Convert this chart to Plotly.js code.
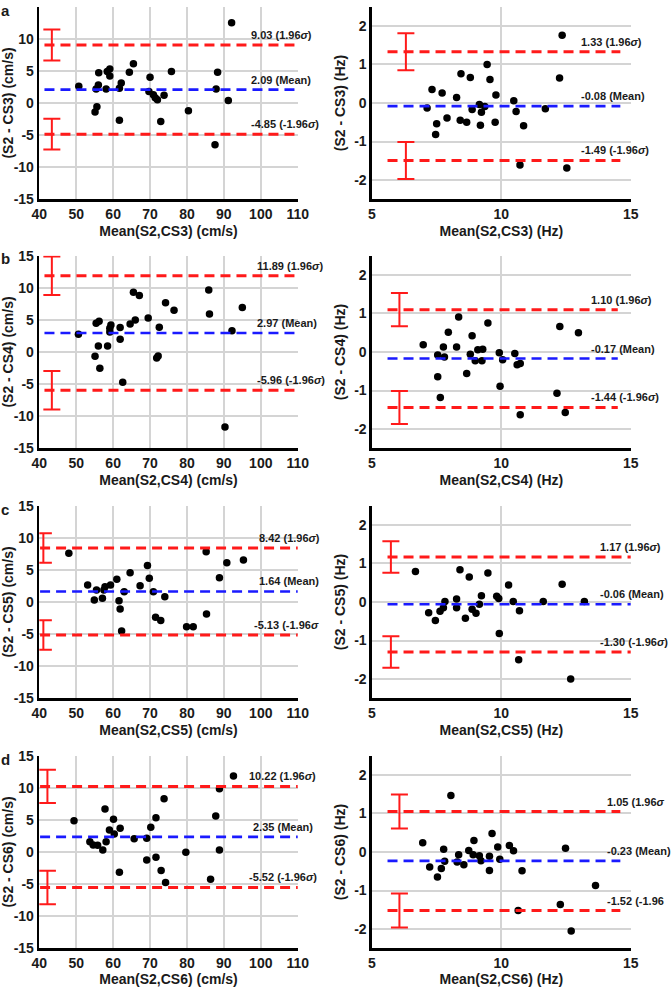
<!DOCTYPE html>
<html>
<head>
<meta charset="utf-8">
<script src="https://cdn.plot.ly/plotly-3.0.1.min.js"></script>
<style>html,body{margin:0;padding:0;background:#fff;overflow:hidden}#chart{width:672px;height:987px}</style>
</head>
<body>
<div id="chart"></div>
<script>
// ---------------- DATA ----------------
const panelLetters = ['a', 'b', 'c', 'd'];
const sensorNames = ['CS3', 'CS4', 'CS5', 'CS6'];
const speedTicks = [40, 50, 60, 70, 80, 90, 100, 110];
const speedYTicks = [-15, -10, -5, 0, 5, 10, 15];
const freqTicks = [5, 10, 15];
const freqYTicks = [-2, -1, 0, 1, 2];

// Speed (cm/s) panels: x = mean, y = difference
const speedX_CS3 = [92.1,50.7,56.1,56.0,55.4,58.1,58.4,59.1,59.1,55.6,55.1,61.7,62.2,61.7,64.4,65.5,70.0,69.7,70.9,71.4,72.0,73.8,72.9,75.8,80.4,88.3,87.9,87.6,91.2];
const speedY_CS3 = [12.5,2.6,4.7,2.8,2.2,2.2,4.9,5.3,4.2,-0.6,-1.4,-2.7,3.1,2.3,4.8,6.1,4.0,1.8,1.3,0.8,0.5,1.2,-2.9,4.9,-1.2,4.8,2.2,-6.5,0.4];
const speedX_CS4 = [50.6,55.1,55.4,56.2,56.0,56.4,58.5,59.4,59.1,59.1,61.9,61.9,62.6,64.6,65.5,66.0,67.1,69.5,71.8,72.2,72.5,74.2,76.5,85.9,86.1,90.3,92.2,95.0];
const speedY_CS4 = [2.75,-0.67,4.46,4.8,0.93,-2.54,0.93,4.2,3.7,3.1,3.8,1.97,-4.72,4.36,9.3,4.98,8.8,5.3,-0.93,-0.62,3.84,7.68,6.5,9.65,5.92,-11.7,3.3,6.95];
const speedX_CS5 = [48.0,53.1,54.9,55.5,57.1,57.5,57.8,59.3,61.0,61.6,61.9,63.0,62.3,64.6,67.3,69.3,69.8,70.9,71.5,72.9,74.0,79.9,81.7,85.2,85.3,88.8,90.8,95.3];
const speedY_CS5 = [7.58,2.65,0.31,1.87,0.57,1.87,2.39,2.65,3.53,0.21,-1.09,1.61,-4.5,4.57,2.54,5.7,3.68,1.61,-2.39,-2.9,0.83,-3.84,-3.84,7.84,-1.87,3.79,6.12,6.54];
const speedX_CS6 = [49.4,53.7,54.6,55.8,57.2,57.8,58.1,59.0,60.1,60.3,61.9,61.7,65.7,69.1,69.1,70.2,71.6,71.6,73.0,73.8,74.2,79.7,86.4,87.8,88.8,88.8,92.6];
const speedY_CS6 = [4.88,1.61,1.09,1.04,0.31,6.69,1.61,3.43,5.09,2.8,3.68,-3.17,2.08,-1.25,2.13,3.84,5.35,-0.83,-2.9,8.3,-4.77,-0.05,-4.26,5.6,9.86,0.31,11.83];

// Frequency (Hz) panels
const freqX_CS3 = [12.35,12.25,7.32,7.71,7.13,7.50,7.46,7.90,8.27,8.44,8.41,8.66,8.80,8.87,9.15,9.19,9.23,9.36,9.45,9.56,9.79,9.76,10.48,10.57,10.72,10.86,11.70,12.53];
const freqY_CS3 = [1.76,0.65,0.35,0.26,-0.13,-0.54,-0.82,-0.39,0.14,0.76,-0.45,-0.50,0.66,-0.17,-0.04,-0.58,-0.24,-0.09,1.00,0.61,0.21,-0.50,0.06,-0.22,-1.61,-0.59,-0.15,-1.69];
const freqX_CS4 = [6.98,7.54,7.54,7.64,7.76,7.80,7.95,8.27,8.35,8.66,8.87,8.80,8.99,9.09,9.25,9.28,9.48,9.92,9.95,10.05,10.52,10.61,10.73,10.73,12.15,12.26,12.47,12.98];
const freqY_CS4 = [0.19,-0.08,-0.64,-1.18,0.13,-0.13,0.51,0.13,0.91,-0.56,0.42,-0.06,-0.23,0.06,-0.23,0.07,0.75,-0.02,-0.89,-0.20,-0.04,-0.33,-0.30,-1.63,-1.07,0.66,-1.57,0.50];
const freqX_CS5 = [6.68,7.19,7.45,7.63,7.76,7.82,8.27,8.27,8.40,8.61,8.76,8.87,9.02,9.15,9.23,9.48,9.82,9.90,9.92,10.28,10.46,10.70,10.67,11.62,12.35,12.68,13.21];
const freqY_CS5 = [0.79,-0.28,-0.48,-0.24,-0.15,0.01,0.08,-0.15,0.84,-0.42,0.65,-0.19,-0.29,-0.06,0.16,0.75,0.15,0.09,-0.82,0.44,0.01,-0.23,-1.50,0.01,0.46,-2.0,0.01];
const freqX_CS6 = [6.96,7.23,7.53,7.68,7.77,7.81,8.05,8.29,8.35,8.55,8.74,8.94,8.91,9.15,9.21,9.54,9.54,9.64,9.86,9.94,10.31,10.47,10.65,10.80,12.28,12.48,12.70,13.64];
const freqY_CS6 = [0.24,-0.39,-0.65,-0.43,0.07,-0.24,1.47,-0.26,-0.07,-0.33,0.04,0.30,-0.07,-0.10,-0.23,-0.11,-0.48,0.48,0.13,-0.19,0.17,0.03,-1.52,-0.49,-1.36,0.10,-2.05,-0.87];

// Bland-Altman statistics
const speedMean  = [2.09, 2.97, 1.64, 2.35];
const speedUpper = [9.03, 11.89, 8.42, 10.22];
const speedLower = [-4.85, -5.96, -5.13, -5.52];
const speedCI    = [2.4, 3.0, 2.3, 2.6];      // half-width of limit CI
const freqMean   = [-0.08, -0.17, -0.06, -0.23];
const freqUpper  = [1.33, 1.10, 1.17, 1.05];
const freqLower  = [-1.49, -1.44, -1.30, -1.52];
const freqCI     = [0.48, 0.43, 0.41, 0.44];

// Label texts (as visible in the figure)
const speedUpperText = ['9.03 (1.96<i>σ</i>)', '11.89 (1.96<i>σ</i>)', '8.42 (1.96<i>σ</i>)', '10.22 (1.96<i>σ</i>)'];
const speedMeanText  = ['2.09 (Mean)', '2.97 (Mean)', '1.64 (Mean)', '2.35 (Mean)'];
const speedLowerText = ['-4.85 (-1.96<i>σ</i>)', '-5.96 (-1.96<i>σ</i>)', '-5.13 (-1.96<i>σ</i>', '-5.52 (-1.96<i>σ</i>)'];
const freqUpperText  = ['1.33 (1.96<i>σ</i>)', '1.10 (1.96<i>σ</i>)', '1.17 (1.96<i>σ</i>)', '1.05 (1.96<i>σ</i>'];
const freqMeanText   = ['-0.08 (Mean)', '-0.17 (Mean)', '-0.06 (Mean)', '-0.23 (Mean)'];
const freqLowerText  = ['-1.49 (-1.96<i>σ</i>)', '-1.44 (-1.96<i>σ</i>)', '-1.30 (-1.96<i>σ</i>)', '-1.52 (-1.96'];

const speedX = [speedX_CS3, speedX_CS4, speedX_CS5, speedX_CS6];
const speedY = [speedY_CS3, speedY_CS4, speedY_CS5, speedY_CS6];
const freqX = [freqX_CS3, freqX_CS4, freqX_CS5, freqX_CS6];
const freqY = [freqY_CS3, freqY_CS4, freqY_CS5, freqY_CS6];

// ---------------- LAYOUT / STYLE ----------------
const W = 672, H = 987;
const colPx = {left: [39.3, 297.7], right: [372, 630.7]};
const rowTopPx = [6.7, 255.7, 505.7, 755.7];
const plotHPx = 192.6;
const letterYPx = [0, 248, 499, 749];
const ciXSpeed = [43.4, 43.4, 41.1, 42.2];
const ciXFreq = [6.31, 6.06, 5.73, 6.06];
const speedLabelX = [[96.8, 96.8, 96.8], [98.4, 98.4, 98.4], [99.0, 99.0, 97.6], [96.3, 97.4, 96.3]];
const freqLabelX = [[13.0, 13.0, 13.0], [13.39, 13.39, 13.39], [13.74, 13.74, 13.74], [14.0, 14.0, 14.0]];
const speedLineSpan = [[0.02, 0.99], [0.02, 0.995], [0.003, 1.0], [0.003, 1.0]];
const freqLineSpan = [[0.06, 0.96], [0.06, 0.95], [0.06, 1.0], [0.06, 0.96]];

const FONT = 'Liberation Sans, Arial, Helvetica, sans-serif';
const RED = '#ff1a1a', BLUE = '#1a1aff', GRID = '#d4d4d4';

const data = [];
const layout = {
  width: W, height: H,
  margin: {l: 0, r: 0, t: 0, b: 0},
  paper_bgcolor: '#fff', plot_bgcolor: '#fff',
  showlegend: false,
  font: {family: FONT, size: 14, color: '#1a1a1a', weight: 'bold'},
  shapes: [], annotations: []
};

function axisBase(domain, range, tickvals, title) {
  return {
    domain: domain, range: range, tickvals: tickvals, ticktext: tickvals.map(String),
    showgrid: true, gridcolor: GRID, gridwidth: 2, zeroline: false,
    showline: true, linecolor: '#000', linewidth: 2.6, mirror: false,
    ticks: '', fixedrange: true,
    tickfont: {family: FONT, size: 14, color: '#1a1a1a', weight: 'bold'},
    title: {text: title, font: {family: FONT, size: 14, color: '#1a1a1a', weight: 'bold'}}
  };
}

for (let r = 0; r < 4; r++) {
  const yDom = [1 - (rowTopPx[r] + plotHPx) / H, 1 - rowTopPx[r] / H];
  const panels = [
    {kind: 'speed', col: 'left', idx: 2 * r + 1},
    {kind: 'freq', col: 'right', idx: 2 * r + 2}
  ];
  panels.forEach(p => {
    const sfx = p.idx === 1 ? '' : String(p.idx);
    const xa = 'x' + sfx, ya = 'y' + sfx;
    const isSpeed = p.kind === 'speed';
    const unit = isSpeed ? '(cm/s)' : '(Hz)';
    const xDom = [colPx[p.col][0] / W, colPx[p.col][1] / W];
    const xr = isSpeed ? [40, 110] : [5, 15];
    const yr = isSpeed ? [-15, 15] : [-2.5, 2.5];
    layout['xaxis' + sfx] = Object.assign(axisBase(xDom, xr, isSpeed ? speedTicks : freqTicks,
      'Mean(S2,' + sensorNames[r] + ') ' + unit), {anchor: ya});
    layout['xaxis' + sfx].title.standoff = 6;
    layout['yaxis' + sfx] = Object.assign(axisBase(yDom, yr, isSpeed ? speedYTicks : freqYTicks,
      '(S2 - ' + sensorNames[r] + ') ' + unit), {anchor: xa});
    layout['yaxis' + sfx].title.standoff = 6;

    const mean = isSpeed ? speedMean[r] : freqMean[r];
    const up = isSpeed ? speedUpper[r] : freqUpper[r];
    const lo = isSpeed ? speedLower[r] : freqLower[r];
    const span = isSpeed ? speedLineSpan[r] : freqLineSpan[r];
    [[up, RED, 3], [mean, BLUE, 2.6], [lo, RED, 3]].forEach(([v, c, w]) => {
      layout.shapes.push({
        type: 'line', xref: xa + ' domain', yref: ya,
        x0: span[0], x1: span[1], y0: v, y1: v,
        line: {color: c, width: w, dash: '10px,6px'}, layer: 'above'
      });
    });

    // scatter points
    data.push({
      type: 'scatter', mode: 'markers', xaxis: xa, yaxis: ya,
      x: isSpeed ? speedX[r] : freqX[r], y: isSpeed ? speedY[r] : freqY[r],
      marker: {color: '#000', size: 7.5}, cliponaxis: false, hoverinfo: 'skip'
    });
    // confidence intervals of limits of agreement
    const ci = isSpeed ? speedCI[r] : freqCI[r];
    const cx = isSpeed ? ciXSpeed[r] : ciXFreq[r];
    data.push({
      type: 'scatter', mode: 'markers', xaxis: xa, yaxis: ya,
      x: [cx, cx], y: [up, lo],
      marker: {color: 'rgba(0,0,0,0)', size: 1},
      error_y: {type: 'data', array: [ci, ci], color: RED, thickness: 2, width: 8.5},
      cliponaxis: false, hoverinfo: 'skip'
    });

    // labels
    const lx = isSpeed ? speedLabelX[r] : freqLabelX[r];
    const texts = isSpeed ? [speedUpperText[r], speedMeanText[r], speedLowerText[r]]
                          : [freqUpperText[r], freqMeanText[r], freqLowerText[r]];
    [up, mean, lo].forEach((v, k) => {
      layout.annotations.push({
        xref: xa, yref: ya, x: lx[k], y: v, text: texts[k],
        xanchor: 'left', yanchor: 'middle', yshift: 10, showarrow: false,
        font: {family: FONT, size: 11, color: '#1a1a1a', weight: 'bold'}
      });
    });
  });
  // panel letter
  layout.annotations.push({
    xref: 'paper', yref: 'paper', x: 5 / W, y: 1 - letterYPx[r] / H,
    text: panelLetters[r], showarrow: false, xanchor: 'center', yanchor: 'top',
    font: {family: FONT, size: 15, color: '#1a1a1a', weight: 'bold'}
  });
}

Plotly.newPlot('chart', data, layout, {staticPlot: true, displayModeBar: false});
</script>
</body>
</html>
